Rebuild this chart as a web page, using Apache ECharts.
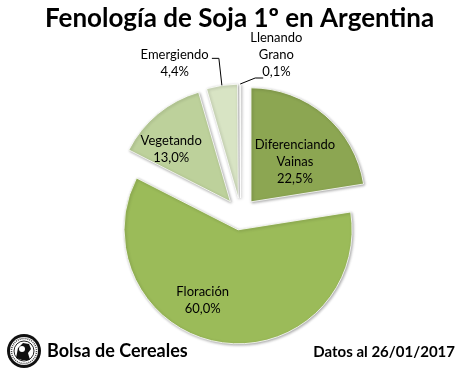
<!DOCTYPE html>
<html><head><meta charset="utf-8">
<script src="https://cdn.jsdelivr.net/npm/echarts@6/dist/echarts.min.js"></script>
<style>html,body{margin:0;padding:0;background:#fff}#c{width:461px;height:380px}</style>
</head><body><div id="c"></div>
<script>
const categories = ['Diferenciando\nVainas', 'Floración', 'Vegetando', 'Emergiendo', 'Llenando\nGrano'];
const values = [22.5, 60.0, 13.0, 4.4, 0.1];
const colors = ['#8CA652', '#9BBB59', '#BDD19B', '#D8E4C4', '#E9F0DE'];
const title = 'Fenología de Soja 1º en Argentina';
const source = 'Bolsa de Cereales';
const dateNote = 'Datos al 26/01/2017';

const FONT = 'Lato, "Open Sans", sans-serif';
const CX = 240.6, CY = 214, R = 114, OFF = 16;
const chart = echarts.init(document.getElementById('c'), null, {renderer: 'canvas'});

// label shifts from the default inside position
const labelAdj = [
  {dx: 5, dy: 6}, {dx: -26, dy: 11}, {dx: -21, dy: -6},
  {dx: -55, dy: -75}, {dx: 36, dy: -83}
];
// leader line for the two outer labels: [elbow offset from arc point, end offset from elbow]
const leaders = {3: [[-3, -27], [-7, 0]], 4: [[15, -6], [8, 0]]};

// geometry of the exploded slices, derived from the values (for the leader lines)
const total = values.reduce((a, b) => a + b, 0);
function midArcPoint(i) {
  let acc = 0;
  for (let k = 0; k < i; k++) acc += values[k];
  const mid = (acc + values[i] / 2) / total * 2 * Math.PI;
  const dx = Math.sin(mid), dy = -Math.cos(mid);
  return [CX + dx * (OFF + R), CY + dy * (OFF + R)];
}
const leaderGraphics = Object.keys(leaders).map(k => {
  const p0 = midArcPoint(+k);
  const [e1, e2] = leaders[k];
  const p1 = [p0[0] + e1[0], p0[1] + e1[1]];
  const p2 = [p1[0] + e2[0], p1[1] + e2[1]];
  return {type: 'polyline', z: 10, shape: {points: [p0, p1, p2]}, style: {stroke: '#000', lineWidth: 1, fill: null}};
});

chart.setOption({
  animation: false,
  title: {
    text: title, left: 40, top: 1,
    textStyle: {fontFamily: FONT, fontWeight: 'bold', fontSize: 26, color: '#000'}
  },
  series: [{
    type: 'pie',
    center: [CX, CY],
    radius: [0, R],
    startAngle: 90,
    clockwise: true,
    selectedMode: 'multiple',
    selectedOffset: OFF,
    avoidLabelOverlap: false,
    emphasis: {disabled: true},
    itemStyle: {borderColor: 'rgba(255,255,255,0.8)', borderWidth: 1, shadowBlur: 3, shadowColor: 'rgba(0,0,0,0.35)', shadowOffsetX: 1, shadowOffsetY: 1},
    label: {
      position: 'inside',
      fontFamily: FONT, fontSize: 13, color: '#000', lineHeight: 17, align: 'center',
      formatter: p => p.name + '\n' + p.value.toFixed(1).replace('.', ',') + '%'
    },
    labelLine: {show: false},
    labelLayout: p => Object.assign({}, labelAdj[p.dataIndex]),
    data: categories.map((c, i) => ({
      name: c, value: values[i], selected: true,
      itemStyle: {color: colors[i]}
    }))
  }],
  graphic: leaderGraphics.concat([
    {type: 'circle', shape: {cx: 24, cy: 351, r: 17}, style: {fill: '#111'}},
    {type: 'circle', shape: {cx: 24, cy: 351, r: 14}, style: {fill: '#fff'}},
    {type: 'circle', shape: {cx: 24, cy: 351, r: 12.5}, style: {fill: 'none', stroke: '#444', lineWidth: 1.5, lineDash: [1, 1]}},
    {type: 'circle', shape: {cx: 24, cy: 351, r: 10}, style: {fill: '#fff', stroke: '#222', lineWidth: 1}},
    {type: 'polygon', shape: {points: [[16, 358], [18, 348], [23, 343], [29, 344], [31, 349], [28, 353], [30, 360], [22, 360]]}, style: {fill: '#111'}},
    {type: 'circle', shape: {cx: 22, cy: 349, r: 3}, style: {fill: '#fff'}},
    {type: 'text', left: 47, top: 342, style: {text: source, fontFamily: FONT, fontWeight: 'bold', fontSize: 18, fill: '#000'}},
    {type: 'text', right: 6, top: 345, style: {text: dateNote, fontFamily: FONT, fontWeight: 'bold', fontSize: 15, fill: '#000'}}
  ])
});
</script></body></html>
